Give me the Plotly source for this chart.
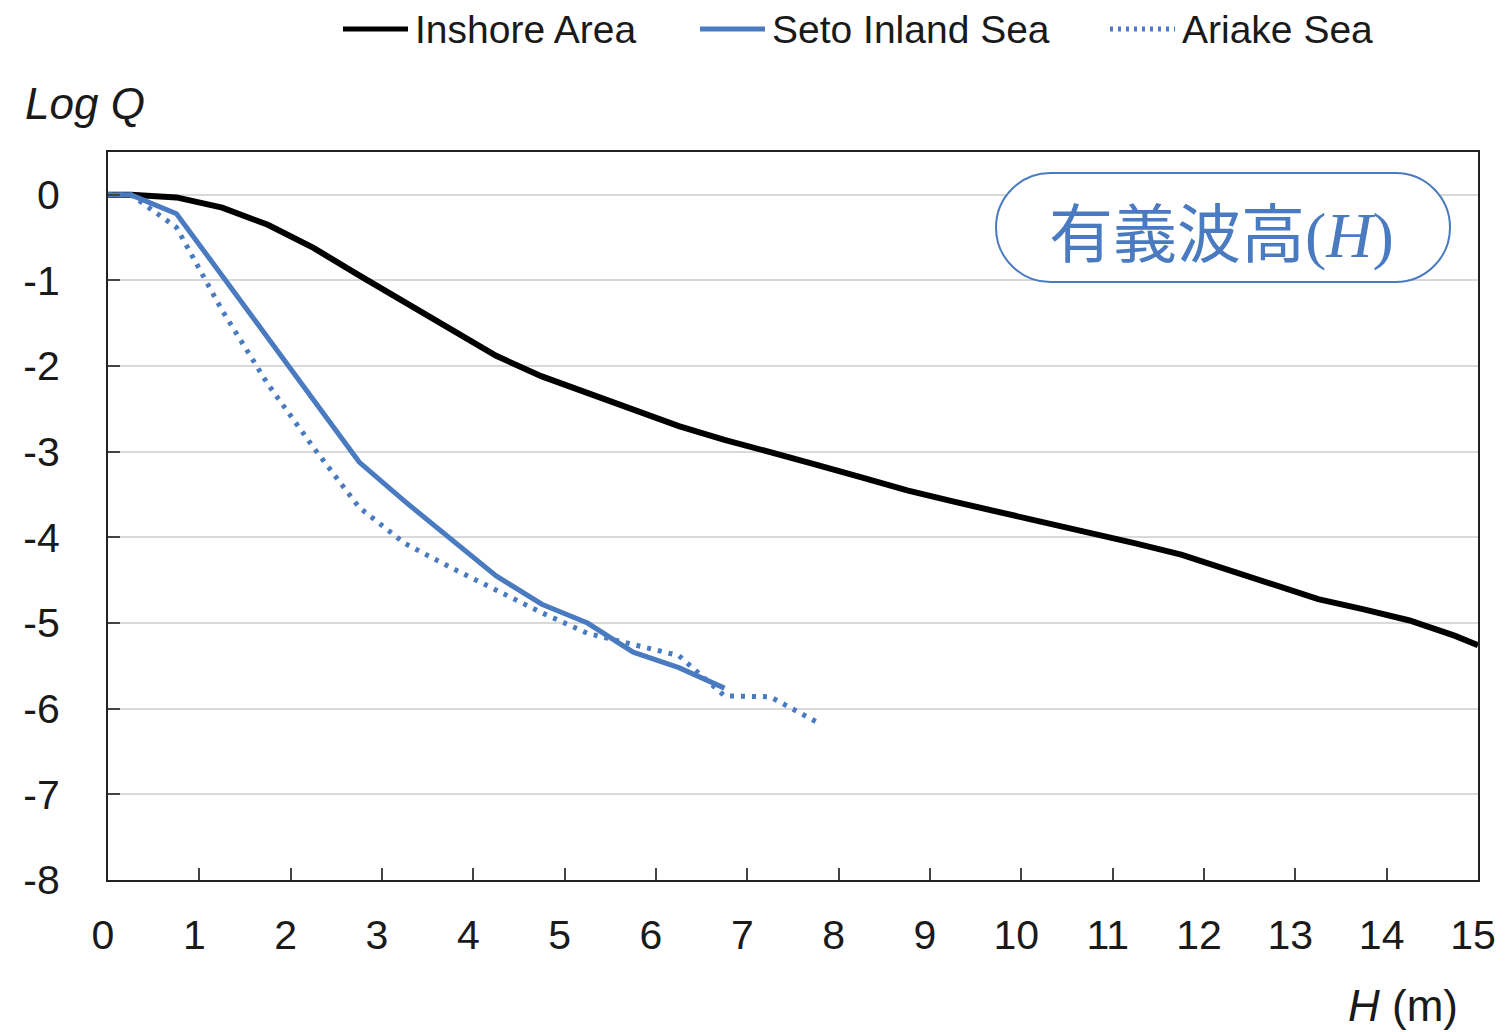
import plotly.graph_objects as go

# Significant wave height H (m) and log exceedance probability Q
inshore_h = [0, 0.25, 0.75, 1.25, 1.75, 2.25, 2.75, 3.25, 3.75, 4.25, 4.75, 5.25, 5.75,
             6.25, 6.75, 7.25, 7.75, 8.25, 8.75, 9.25, 9.75, 10.25, 10.75, 11.25, 11.75,
             12.25, 12.75, 13.25, 13.75, 14.25, 14.75, 15.0]
inshore_q = [0, 0, -0.03, -0.15, -0.35, -0.62, -0.94, -1.25, -1.56, -1.88, -2.12, -2.31, -2.51,
             -2.70, -2.86, -3.00, -3.15, -3.30, -3.45, -3.58, -3.70, -3.82, -3.95, -4.07, -4.20,
             -4.37, -4.55, -4.72, -4.84, -4.97, -5.15, -5.26]

seto_h = [0, 0.25, 0.75, 1.25, 1.75, 2.25, 2.75, 3.25, 3.75, 4.25, 4.75, 5.25, 5.75, 6.25, 6.75]
seto_q = [0, 0, -0.22, -0.94, -1.66, -2.38, -3.12, -3.58, -4.02, -4.45, -4.78, -5.00, -5.34, -5.52, -5.76]

ariake_h = [0, 0.25, 0.75, 1.25, 1.75, 2.25, 2.75, 3.25, 3.75, 4.25, 4.75, 5.25, 5.75,
            6.25, 6.75, 7.25, 7.75]
ariake_q = [0, 0, -0.38, -1.35, -2.21, -2.95, -3.65, -4.07, -4.35, -4.62, -4.88, -5.12, -5.25,
            -5.38, -5.85, -5.86, -6.15]

series_names = ["Inshore Area", "Seto Inland Sea", "Ariake Sea"]

x_ticks = list(range(0, 16))
y_ticks = list(range(-8, 1))

BLUE = "#4a7abf"
FONT = "Liberation Sans, Arial, sans-serif"
TEXT = "#1a1a1a"

# plot-area geometry in pixels
W, H = 1506, 1032
ML, MR, MT, MB = 108, 28, 152, 152
PW, PH = W - ML - MR, H - MT - MB


def px(xp):
    return (xp - ML) / PW


def py(yp):
    return (H - MB - yp) / PH


styles = [
    dict(color="black", width=6),
    dict(color=BLUE, width=5),
    dict(color=BLUE, width=5, dash="4px,7px"),
]

fig = go.Figure()
for name, xs, ys, st in zip(series_names,
                            [inshore_h, seto_h, ariake_h],
                            [inshore_q, seto_q, ariake_q],
                            styles):
    fig.add_trace(go.Scatter(x=xs, y=ys, mode="lines", name=name, line=st, showlegend=False))

# legend row drawn above the plot: sample line + label
legend_starts = [343, 700, 1110]
LEG_Y = 29
for name, x0, st in zip(series_names, legend_starts, styles):
    ls = dict(st)
    ls["width"] = 5
    if "dash" in ls:
        ls["dash"] = "3px,5px"
    fig.add_shape(type="line", xref="paper", yref="paper",
                  x0=px(x0), x1=px(x0 + 65), y0=py(LEG_Y), y1=py(LEG_Y), line=ls)
    fig.add_annotation(x=px(x0 + 70), y=py(LEG_Y + 1), xref="paper", yref="paper",
                       showarrow=False, text=name, xanchor="left", yanchor="middle",
                       font=dict(family=FONT, size=39, color=TEXT))

# rounded "pill" label box
L, R, T, B = 996, 1450, 173, 282
r = (B - T) / 2
cy = (T + B) / 2
k = 0.5523 * r
pts = [
    ("M", [(L + r, T)]),
    ("L", [(R - r, T)]),
    ("C", [(R - r + k, T), (R, cy - k), (R, cy)]),
    ("C", [(R, cy + k), (R - r + k, B), (R - r, B)]),
    ("L", [(L + r, B)]),
    ("C", [(L + r - k, B), (L, cy + k), (L, cy)]),
    ("C", [(L, cy - k), (L + r - k, T), (L + r, T)]),
]
path = " ".join(cmd + " " + " ".join(f"{px(a):.5f},{py(b):.5f}" for a, b in p) for cmd, p in pts) + " Z"
fig.add_shape(type="path", path=path, xref="paper", yref="paper",
              line=dict(color=BLUE, width=2), fillcolor="white", layer="above")

fig.add_annotation(x=px(1221), y=py(229), xref="paper", yref="paper", showarrow=False,
                   text='有義波高<span style="font-family:\'Liberation Serif\',serif">(<i>H</i>)</span>',
                   font=dict(family="Noto Sans CJK JP", size=64, color=BLUE),
                   xanchor="center", yanchor="middle")

fig.add_annotation(x=px(23), y=py(103), xref="paper", yref="paper", showarrow=False,
                   text="<i>Log Q</i>", font=dict(family=FONT, size=44, color=TEXT),
                   xanchor="left", yanchor="middle")
fig.add_annotation(x=px(1460), y=py(1005), xref="paper", yref="paper", showarrow=False,
                   text="<i>H</i> (m)", font=dict(family=FONT, size=44, color=TEXT),
                   xanchor="right", yanchor="middle")

fig.update_layout(
    width=W, height=H,
    margin=dict(l=ML, r=MR, t=MT, b=MB, autoexpand=False),
    paper_bgcolor="white", plot_bgcolor="white",
    font=dict(family=FONT, size=40, color=TEXT),
    showlegend=False,
    xaxis=dict(range=[0, 15], tickvals=x_ticks, ticktext=[str(v) for v in x_ticks],
               ticks="inside", ticklen=12, tickwidth=2, tickcolor="#444",
               showline=True, linecolor="#222", linewidth=2, mirror=True,
               showgrid=False, zeroline=False, ticklabelstandoff=18, ticklabelshift=-5,
               tickfont=dict(size=41)),
    yaxis=dict(range=[-8, 0.5], tickvals=y_ticks, ticktext=[str(v) for v in y_ticks],
               ticks="inside", ticklen=12, tickwidth=2, tickcolor="#444",
               showline=True, linecolor="#222", linewidth=2, mirror=True,
               showgrid=True, gridcolor="#d9d9d9", gridwidth=2, zeroline=False,
               ticklabelstandoff=38, tickfont=dict(size=41)),
)

fig.write_html("out.html")
